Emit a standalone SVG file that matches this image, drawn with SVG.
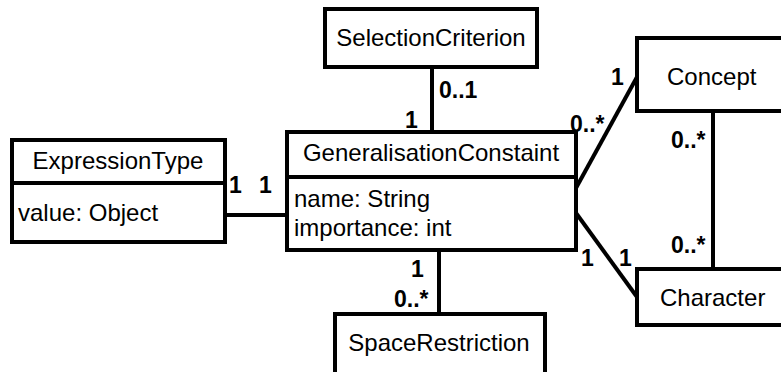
<svg xmlns="http://www.w3.org/2000/svg" width="781" height="372" viewBox="0 0 781 372">
<style>
.box{fill:#fff;stroke:#000;stroke-width:4}
.ln{stroke:#000;stroke-width:4;fill:none}
.t{font-family:"Liberation Sans",Arial,sans-serif;font-size:24px;fill:#000}
.c{text-anchor:middle}
.m{font-family:"Liberation Sans",Arial,sans-serif;font-size:23px;font-weight:bold;fill:#000}
</style>
<rect width="781" height="372" fill="#fff"/>
<g id="connectors">
<line class="ln" x1="225" y1="215" x2="287" y2="215"/>
<line class="ln" x1="432" y1="67" x2="432" y2="132"/>
<line class="ln" x1="576" y1="188" x2="637" y2="77"/>
<line class="ln" x1="576" y1="213" x2="637" y2="297"/>
<line class="ln" x1="713" y1="111" x2="713" y2="269"/>
<line class="ln" x1="439" y1="250" x2="439" y2="314"/>
</g>
<g id="ExpressionType">
<rect class="box" x="12" y="140" width="213" height="102"/>
<line class="ln" x1="12" y1="183" x2="225" y2="183"/>
<text class="t c" x="118" y="169">ExpressionType</text>
<text class="t" x="18" y="221">value: Object</text>
</g>
<g id="GeneralisationConstaint">
<rect class="box" x="287" y="132" width="289" height="118"/>
<line class="ln" x1="287" y1="177" x2="576" y2="177"/>
<text class="t c" x="431" y="161">GeneralisationConstaint</text>
<text class="t" x="294" y="207">name: String</text>
<text class="t" x="294" y="236">importance: int</text>
</g>
<g id="SelectionCriterion">
<rect class="box" x="325" y="9" width="212" height="58"/>
<text class="t c" x="431" y="46">SelectionCriterion</text>
</g>
<g id="Concept">
<rect class="box" x="637" y="38" width="160" height="73"/>
<text class="t" x="667" y="85">Concept</text>
</g>
<g id="Character">
<rect class="box" x="637" y="269" width="160" height="56"/>
<text class="t" x="660" y="306">Character</text>
</g>
<g id="SpaceRestriction">
<rect class="box" x="335" y="314" width="210" height="70"/>
<text class="t c" x="439" y="351">SpaceRestriction</text>
</g>
<g id="labels">
<text class="m" x="229" y="193">1</text>
<text class="m" x="259" y="193">1</text>
<text class="m" x="439" y="98">0..1</text>
<text class="m" x="405" y="128">1</text>
<text class="m" x="570" y="132">0..*</text>
<text class="m" x="611" y="85">1</text>
<text class="m" x="671" y="148">0..*</text>
<text class="m" x="671" y="253">0..*</text>
<text class="m" x="581" y="266">1</text>
<text class="m" x="619" y="266">1</text>
<text class="m" x="411" y="277">1</text>
<text class="m" x="394" y="307">0..*</text>
</g>
</svg>
